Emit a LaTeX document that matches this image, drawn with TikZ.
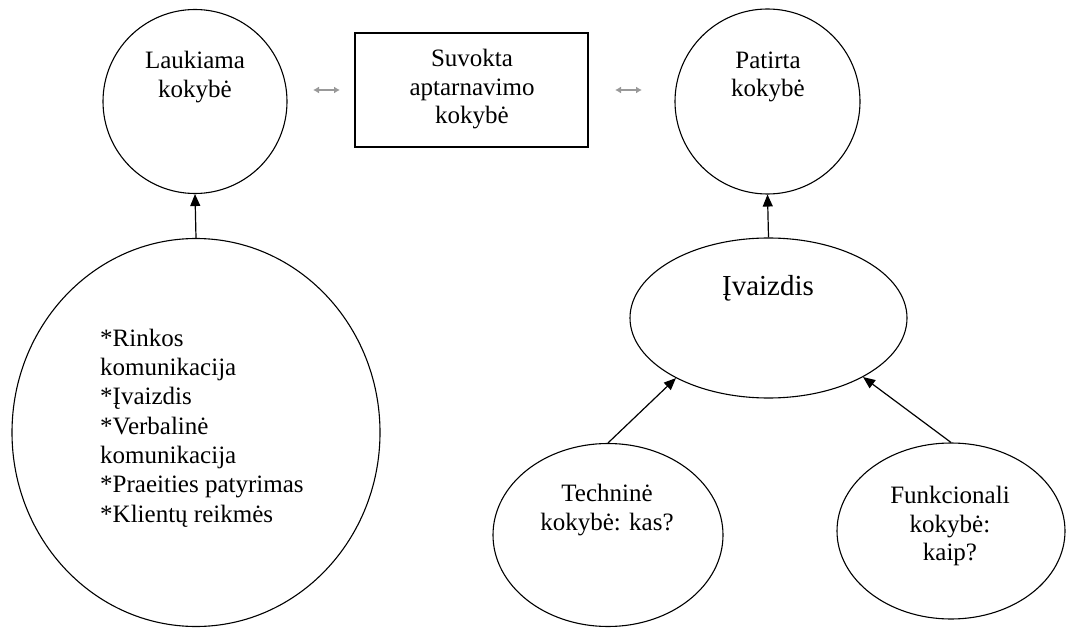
\documentclass[tikz,border=0pt]{standalone}
\usepackage{fontspec}
\setmainfont{Liberation Serif}
\usetikzlibrary{shapes.geometric,arrows.meta}
\tikzset{
  shapebox/.style={draw=black, line width=1.1pt, inner sep=0pt, fill=white},
  circ/.style={shapebox, circle, minimum size=#1},
  ell/.style={shapebox, ellipse},
  rectbox/.style={shapebox, rectangle},
  lbl/.style={align=center, inner sep=0pt, font=\fontsize{25}{28.5}\selectfont},
  conn/.style={line width=1.2pt, -{Triangle[length=12pt,width=10pt]}},
  dbl/.style={line width=1.8pt, draw=black!40, {Latex[length=6pt,width=7pt]}-{Latex[length=6pt,width=7pt]}}
}
\begin{document}
\begin{tikzpicture}[x=1pt,y=-1pt]
\useasboundingbox (0,0) rectangle (1068,628);
% shapes
\node[circ=184pt] (lauk) at (195,101.5) {};
\node[rectbox, minimum width=233pt, minimum height=114pt] (suv) at (471.5,90) {};
\node[circ=185pt] (pat) at (767.5,101.5) {};
\node[ell, minimum width=368pt, minimum height=388pt] (big) at (196,432.5) {};
\node[ell, minimum width=277pt, minimum height=160pt] (ivz) at (768.5,318) {};
\node[ell, minimum width=230pt, minimum height=183pt] (tech) at (608,535) {};
\node[ell, minimum width=228pt, minimum height=176pt] (funk) at (951,531) {};
% labels
\node[lbl] (tlauk) at (195,77) {Laukiama\\kokybė};
\node[lbl] (tsuv) at (472,89.5) {Suvokta\\aptarnavimo\\kokybė};
\node[lbl] (tpat) at (768,77) {Patirta\\kokybė};
\node[lbl, font=\fontsize{29}{32}\selectfont] (tivz) at (768,288) {Įvaizdis};
\node[lbl] (ttech) at (607,510) {Techninė\\kokybė: kas?};
\node[lbl] (tfunk) at (950,526) {Funkcionali\\kokybė:\\kaip?};
\node[lbl, align=left, anchor=west, font=\fontsize{25}{29.3}\selectfont] (tbig) at (100,428)
  {*Rinkos\\komunikacija\\*Įvaizdis\\*Verbalinė\\komunikacija\\*Praeities patyrimas\\*Klientų reikmės};
% connectors
\draw[conn] (big.north) -- (lauk.south);
\draw[conn] (ivz.north) -- (pat.south);
\draw[conn] (tech.north) -- (ivz.213);
\draw[conn] (funk.north) -- (ivz.328);
\coordinate (d1a) at (313,90);
\coordinate (d1b) at (340,90);
\coordinate (d2a) at (615,90);
\coordinate (d2b) at (642,90);
\draw[dbl] (d1a) -- (d1b);
\draw[dbl] (d2a) -- (d2b);
\end{tikzpicture}
\end{document}
